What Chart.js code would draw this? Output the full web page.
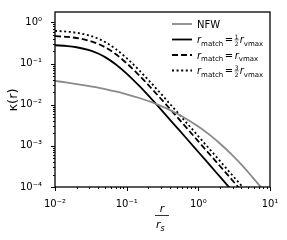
<!DOCTYPE html>
<html><head><meta charset="utf-8">
<script src="https://cdn.jsdelivr.net/npm/chart.js@4/dist/chart.umd.min.js"></script>
<style>html,body{margin:0;padding:0;background:#fff}canvas{display:block}</style>
</head><body>
<canvas id="c" width="287" height="240"></canvas>
<script>
// r / r_s sample positions
const rValues = [0.01,0.015,0.02,0.03,0.04,0.05,0.07,0.1,0.15,0.2,0.3,0.5,0.7,1,1.5,2,3,4,5,7.4,8.5];
// NFW (gray)
const kappaNFW = [0.038,0.0344,0.0319,0.0283,0.026,0.0239,0.021,0.0179,0.0146,0.01234,0.00937,0.00614,0.0044,0.00295,0.00175,0.00114,0.00059,0.00035,0.000225,0.000102,0.00008];
// r_match = 1/2 r_vmax (solid)
const kappaHalf = [0.28,0.267,0.25,0.213,0.176,0.144,0.097,0.0573,0.0286,0.0168,0.00771,0.00282,0.00145,0.000711,0.000317,0.000178,0.000079,null,null,null,null];
// r_match = r_vmax (dashed)
const kappaOne = [0.465,0.445,0.42,0.361,0.302,0.25,0.171,0.102,0.0515,0.0304,0.014,0.00513,0.00263,0.001293,0.000575,0.000324,0.000144,0.000081,null,null,null];
// r_match = 3/2 r_vmax (dotted)
const kappaThreeHalf = [0.625,0.598,0.564,0.484,0.405,0.334,0.228,0.136,0.0684,0.0403,0.0186,0.00681,0.00349,0.001715,0.000764,0.00043,0.000191,0.0001075,0.000069,null,null];
const xTickLabels = {'-2':'10⁻²','-1':'10⁻¹','0':'10⁰','1':'10¹'};
const yTickLabels = {'-4':'10⁻⁴','-3':'10⁻³','-2':'10⁻²','-1':'10⁻¹','0':'10⁰'};

const pts = arr => rValues.map((x,i)=>({x, y: arr[i]}));
const FONT = '"DejaVu Sans"';

function powLabel(map){
  return function(v){
    const l = Math.log10(v), r = Math.round(l);
    if (Math.abs(l-r) < 1e-6 && map[String(r)] !== undefined) return map[String(r)];
    return '';
  };
}

const decor = {
  id:'decor',
  afterDraw(chart){
    const {ctx, chartArea:a, scales:{x,y}} = chart;
    ctx.save();
    ctx.strokeStyle='#000'; ctx.lineWidth=1;
    ctx.beginPath();
    for (let d=-2; d<=1; d++) for (let m=1; m<=9; m++){
      const v = m*Math.pow(10,d);
      if (v < 0.01-1e-12 || v > 10+1e-9) continue;
      const px = Math.round(x.getPixelForValue(v))+0.5, len = m===1?4:2;
      ctx.moveTo(px, a.bottom); ctx.lineTo(px, a.bottom+len);
    }
    for (let d=-4; d<=0; d++) for (let m=1; m<=9; m++){
      const v = m*Math.pow(10,d);
      if (v < 1e-4-1e-12 || v > y.max) continue;
      const py = Math.round(y.getPixelForValue(v))+0.5, len = m===1?4:2;
      ctx.moveTo(a.left, py); ctx.lineTo(a.left-len, py);
    }
    ctx.stroke();
    ctx.lineWidth=1.3;
    ctx.strokeRect(a.left, a.top, a.right-a.left, a.bottom-a.top);

    ctx.fillStyle='#000';
    // y label
    ctx.save();
    ctx.translate(17, 100); ctx.rotate(-Math.PI/2);
    ctx.font = '13px '+FONT; ctx.textAlign='center'; ctx.textBaseline='alphabetic';
    ctx.fillText('κ(r)', 0, 0);
    ctx.restore();
    // x label fraction
    const cx = 162;
    ctx.font = 'italic 11px '+FONT; ctx.textAlign='center'; ctx.textBaseline='alphabetic';
    ctx.fillText('r', cx, 212);
    ctx.lineWidth=0.8; ctx.beginPath(); ctx.moveTo(cx-7, 215.5); ctx.lineTo(cx+7, 215.5); ctx.stroke();
    ctx.textAlign='left';
    ctx.fillText('r', cx-6, 228);
    ctx.font = 'italic 8px '+FONT;
    ctx.fillText('s', cx-1.5, 231);

    // legend
    const rows = [
      {ds:0, parts:[['NFW','10px']]},
      {ds:1, frac:'1/2'},
      {ds:2, frac:null},
      {ds:3, frac:'3/2'},
    ];
    const rowY = [24, 39.5, 55, 70.5];
    rows.forEach((row,i)=>{
      const ds = chart.data.datasets[row.ds];
      const yy = rowY[i];
      ctx.save();
      ctx.strokeStyle = ds.borderColor; ctx.lineWidth = ds.borderWidth;
      ctx.setLineDash(ds.borderDash || []);
      ctx.beginPath(); ctx.moveTo(172, yy); ctx.lineTo(192, yy); ctx.stroke();
      ctx.restore();
      let tx = 197;
      const base = yy+3.5;
      ctx.textAlign='left'; ctx.textBaseline='alphabetic'; ctx.fillStyle='#000';
      if (row.parts){ ctx.font='10px '+FONT; ctx.fillText('NFW', tx, base); return; }
      const put = (t, font, dy)=>{ ctx.font=font; ctx.fillText(t, tx, base+(dy||0)); tx += ctx.measureText(t).width; };
      put('r','italic 10px '+FONT);
      put('match','7px '+FONT, 2.5);
      tx += 1.5;
      put('=','10px '+FONT);
      tx += 1.5;
      if (row.frac){
        const [n,dd] = row.frac.split('/');
        ctx.font='6px '+FONT; ctx.textAlign='center';
        ctx.fillText(n, tx+2, base-4.5);
        ctx.fillText(dd, tx+2, base+2.5);
        ctx.lineWidth=0.6; ctx.beginPath(); ctx.moveTo(tx, base-3.2); ctx.lineTo(tx+4, base-3.2); ctx.stroke();
        ctx.textAlign='left';
        tx += 5;
      }
      put('r','italic 10px '+FONT);
      put('vmax','7px '+FONT, 2.5);
    });
    ctx.restore();
  }
};

new Chart(document.getElementById('c'), {
  type:'line',
  data:{ datasets:[
    {label:'NFW', data:pts(kappaNFW), borderColor:'#8a8a8a', borderWidth:1.8},
    {label:'half', data:pts(kappaHalf), borderColor:'#000', borderWidth:1.8},
    {label:'one', data:pts(kappaOne), borderColor:'#000', borderWidth:1.8, borderDash:[6,3]},
    {label:'threehalf', data:pts(kappaThreeHalf), borderColor:'#000', borderWidth:1.8, borderDash:[2,2.6]},
  ]},
  options:{
    responsive:false, animation:false, devicePixelRatio:1,
    layout:{padding:{left:0, right:17, top:12, bottom:0}},
    elements:{point:{radius:0}, line:{cubicInterpolationMode:'monotone', fill:false}},
    plugins:{legend:{display:false}, tooltip:{enabled:false}},
    scales:{
      x:{type:'logarithmic', min:0.01, max:10,
         grid:{display:false}, border:{display:false},
         ticks:{autoSkip:false, maxRotation:0, padding:3, color:'#000', font:{family:FONT, size:10}, callback:powLabel(xTickLabels)},
         afterFit(s){ s.height = 53; }},
      y:{type:'logarithmic', min:1e-4, max:1.8,
         grid:{display:false}, border:{display:false},
         ticks:{autoSkip:false, padding:5, color:'#000', font:{family:FONT, size:10}, callback:powLabel(yTickLabels)},
         afterFit(s){ s.width = 55; }}
    }
  },
  plugins:[decor]
});
</script>
</body></html>
